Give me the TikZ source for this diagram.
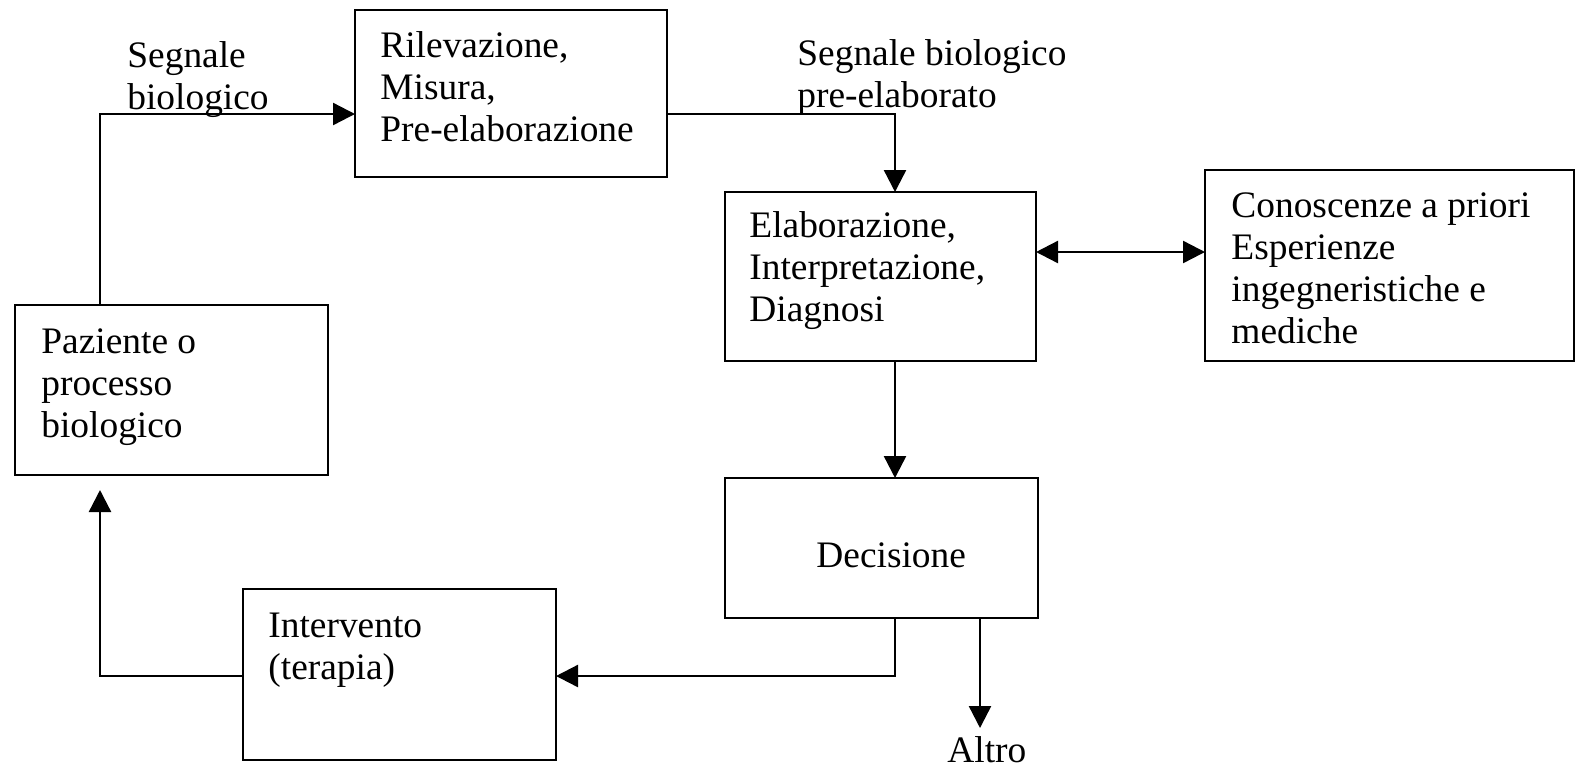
\documentclass[tikz,border=0pt]{standalone}
\usepackage{fontspec}
\setmainfont{Liberation Serif}
\usetikzlibrary{arrows.meta}
\tikzset{
  box/.style={draw, line width=1.2pt, inner sep=0pt, outer sep=0pt},
  txt/.style={anchor=north west, inner sep=0pt, align=left, font=\fontsize{18.7}{21}\selectfont},
  arr/.style={line width=1.2pt, -{Triangle[length=11pt,width=11pt]}},
  darr/.style={line width=1.2pt, {Triangle[length=11pt,width=11pt]}-{Triangle[length=11pt,width=11pt]}}
}
\begin{document}
\begin{tikzpicture}[x=0.5pt,y=-0.5pt]
\useasboundingbox (0,0) rectangle (1578,767);
% boxes
\node[box, minimum width=156pt, minimum height=83.5pt] (ril) at (511,93.5) {};
\node[box, minimum width=155.5pt, minimum height=84.5pt] (ela) at (880.5,276.5) {};
\node[box, minimum width=184.5pt, minimum height=95.5pt] (con) at (1389.5,265.5) {};
\node[box, minimum width=156.5pt, minimum height=85pt] (paz) at (171.5,390) {};
\node[box, minimum width=156.5pt, minimum height=70pt] (dec) at (881.5,548) {};
\node[box, minimum width=156.5pt, minimum height=85.5pt] (int) at (399.5,674.5) {};
% texts
\node[txt] (tril) at (380,27.6) {\strut Rilevazione,\\Misura,\\Pre-elaborazione};
\node[txt] (tela) at (749,207.6) {\strut Elaborazione,\\Interpretazione,\\Diagnosi};
\node[txt] (tcon) at (1231,187.6) {\strut Conoscenze a priori\\Esperienze\\ingegneristiche e\\mediche};
\node[txt] (tpaz) at (41,323.6) {\strut Paziente o\\processo\\biologico};
\node[txt] (tdec) at (816,537.6) {\strut Decisione};
\node[txt] (tint) at (268,607.6) {\strut Intervento\\(terapia)};
\node[txt] (lsb) at (127,37.6) {\strut Segnale\\biologico};
\node[txt] (lsbp) at (797,35.6) {\strut Segnale biologico\\pre-elaborato};
\node[txt, anchor=base west] (altro) at (947,762) {Altro};
% helper coordinates
\coordinate (c1) at (100,114);
\coordinate (c2) at (895,0);
\coordinate (c3) at (0,252);
\coordinate (c4) at (0,676);
\coordinate (c5) at (980,728);
% connectors
\draw[arr] (paz.north -| c1) |- (ril.west |- c1);
\draw[arr] (ril.east |- c1) -| (ela.north -| c2);
\draw[darr] (ela.east |- c3) -- (con.west |- c3);
\draw[arr] (ela.south -| c2) -- (dec.north -| c2);
\draw[arr] (dec.south -| c2) |- (int.east |- c4);
\draw[arr, shorten >=7.5pt] (int.west |- c4) -| (paz.south -| c1);
\draw[arr] (dec.south -| c5) -- (c5);
\end{tikzpicture}
\end{document}
